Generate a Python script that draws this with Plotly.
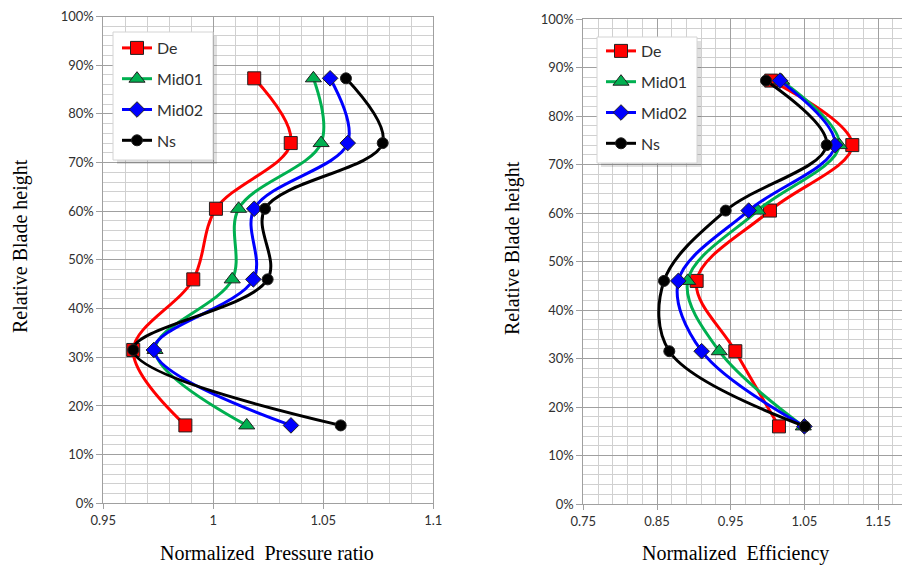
import plotly.graph_objects as go

# ---------------- data ----------------
series_names = ["De", "Mid01", "Mid02", "Ns"]
heights = [0.16, 0.315, 0.46, 0.605, 0.74, 0.873]

pressure_De = [0.9873, 0.9636, 0.9909, 1.0012, 1.0352, 1.0186]
pressure_Mid01 = [1.0152, 0.9735, 1.0086, 1.0115, 1.0490, 1.0455]
pressure_Mid02 = [1.0353, 0.9730, 1.0182, 1.0186, 1.0611, 1.0531]
pressure_Ns = [1.0579, 0.9636, 1.0247, 1.0235, 1.0770, 1.0603]

eff_De = [1.0155, 0.9563, 0.9038, 1.0033, 1.1150, 1.0050]
eff_Mid01 = [1.0485, 0.9345, 0.8916, 0.9866, 1.0974, 1.0190]
eff_Mid02 = [1.0500, 0.9106, 0.8789, 0.9744, 1.0915, 1.0169]
eff_Ns = [1.0508, 0.8667, 0.8595, 0.9432, 1.0802, 0.9979]

left_ticks = [0.95, 1.0, 1.05, 1.1]
right_ticks = [0.75, 0.85, 0.95, 1.05, 1.15]

pressure = [pressure_De, pressure_Mid01, pressure_Mid02, pressure_Ns]
efficiency = [eff_De, eff_Mid01, eff_Mid02, eff_Ns]

# ---------------- styles ----------------
line_colors = ["#ff0000", "#00b050", "#0000ff", "#000000"]
marker_colors = ["#ff0000", "#00b050", "#0000ff", "#000000"]
symbols = ["square", "triangle-up", "diamond", "circle"]
sizes = [13, 14, 12, 11]

# page body has an 8px margin: the figure is drawn 8px right/down of the window corner
OFF = 8
W, H = 910 - OFF, 569 - OFF
def px(x):
    return (x - OFF) / W
def py(y):
    return 1 - (y - OFF) / H

fig = go.Figure()

for i, name in enumerate(series_names):
    fig.add_trace(go.Scatter(
        x=pressure[i], y=heights, name=name, mode="lines+markers",
        line=dict(color=line_colors[i], width=3, shape="spline", smoothing=1.0),
        marker=dict(symbol=symbols[i], size=sizes[i], color=marker_colors[i],
                    line=dict(color="#202020", width=1)),
        xaxis="x", yaxis="y", legend="legend", legendgroup="L" + name,
    ))
for i, name in enumerate(series_names):
    fig.add_trace(go.Scatter(
        x=efficiency[i], y=heights, name=name, mode="lines+markers",
        line=dict(color=line_colors[i], width=3, shape="spline", smoothing=1.0),
        marker=dict(symbol=symbols[i], size=sizes[i], color=marker_colors[i],
                    line=dict(color="#202020", width=1)),
        xaxis="x2", yaxis="y2", legend="legend2", legendgroup="R" + name,
    ))

tickfont = dict(family="Lato, Open Sans, sans-serif", size=13, color="#303030")
major_grid = "#a0a0a0"
minor_grid = "#d0d0d0"
serif = "Times New Roman, Liberation Serif, DejaVu Serif, serif"
legfont = dict(family="Lato, Open Sans, sans-serif", size=16, color="#303030")

common_x = dict(showgrid=True, gridcolor=major_grid, gridwidth=1,
                showline=True, linecolor=major_grid, linewidth=1, mirror=True,
                ticks="outside", ticklen=5, tickcolor=major_grid,
                tickfont=tickfont, zeroline=False, fixedrange=True, automargin=False,
                ticklabeloverflow="allow")
common_y = dict(showgrid=True, gridcolor=major_grid, gridwidth=1,
                showline=True, linecolor=major_grid, linewidth=1,
                ticks="outside", ticklen=6, tickcolor=major_grid,
                tickfont=tickfont, zeroline=False, range=[0, 1],
                tickmode="array", tickvals=[k / 10 for k in range(11)],
                tickformat=".0%", ticklabeloverflow="allow",
                minor=dict(dtick=0.02, tick0=0, showgrid=True, gridcolor=minor_grid, gridwidth=1),
                fixedrange=True, automargin=False)

# legend boxes (screen px): white box with light border and a soft drop shadow
legL = (113, 32, 213, 160)
legR = (597, 37, 697, 163)
shapes = []
for (x0, y0, x1, y1) in (legL, legR):
    shapes.append(dict(type="rect", xref="paper", yref="paper",
                       x0=px(x0 + 4), x1=px(x1 + 4), y0=py(y1 + 4), y1=py(y0 + 4),
                       fillcolor="rgba(0,0,0,0.12)", line=dict(width=0), layer="above"))
    shapes.append(dict(type="rect", xref="paper", yref="paper",
                       x0=px(x0), x1=px(x1), y0=py(y1), y1=py(y0),
                       fillcolor="white", line=dict(width=1, color="#d4d4d4"), layer="above"))

fig.update_layout(
    width=W, height=H,
    margin=dict(l=0, r=0, t=0, b=0, autoexpand=False),
    paper_bgcolor="white", plot_bgcolor="white",
    showlegend=True,
    xaxis=dict(common_x, domain=[px(103.3), px(433.3)], range=[0.95, 1.1],
               tickmode="array", tickvals=left_ticks, ticktext=["0.95", "1", "1.05", "1.1"],
               minor=dict(dtick=0.01, tick0=0.95, showgrid=True, gridcolor=minor_grid, gridwidth=1),
               anchor="y"),
    yaxis=dict(common_y, domain=[py(503.3), py(16.5)], mirror=True, anchor="x"),
    xaxis2=dict(common_x, domain=[px(583.3), 1.0], range=[0.75, 0.75 + (910 - 583.3) / 737.0],
                tickmode="array", tickvals=right_ticks,
                ticktext=["0.75", "0.85", "0.95", "1.05", "1.15"],
                minor=dict(dtick=0.02, tick0=0.75, showgrid=True, gridcolor=minor_grid, gridwidth=1),
                anchor="y2"),
    yaxis2=dict(common_y, domain=[py(504), py(19)], mirror=False, anchor="x2"),
    legend=dict(x=px(legL[0] + 4), y=py(legL[1] - 1), xanchor="left", yanchor="top",
                bgcolor="rgba(0,0,0,0)", borderwidth=0,
                font=legfont, tracegroupgap=7, traceorder="grouped", itemwidth=30),
    legend2=dict(x=px(legR[0] + 4), y=py(legR[1] - 3), xanchor="left", yanchor="top",
                 bgcolor="rgba(0,0,0,0)", borderwidth=0,
                 font=legfont, tracegroupgap=7, traceorder="grouped", itemwidth=30),
    shapes=shapes,
    annotations=[
        dict(text="Normalized  Pressure ratio", x=px(267), y=py(553), xref="paper", yref="paper",
             showarrow=False, xanchor="center", yanchor="middle",
             font=dict(family=serif, size=20, color="#000000")),
        dict(text="Normalized  Efficiency", x=px(735), y=py(553), xref="paper", yref="paper",
             showarrow=False, xanchor="center", yanchor="middle",
             font=dict(family=serif, size=20, color="#000000")),
        dict(text="Relative Blade height", x=px(20), y=py(246), xref="paper", yref="paper",
             showarrow=False, textangle=-90, xanchor="center", yanchor="middle",
             font=dict(family=serif, size=20, color="#000000")),
        dict(text="Relative Blade height", x=px(513), y=py(248), xref="paper", yref="paper",
             showarrow=False, textangle=-90, xanchor="center", yanchor="middle",
             font=dict(family=serif, size=20, color="#000000")),
    ],
)

fig.write_html("out.html")
